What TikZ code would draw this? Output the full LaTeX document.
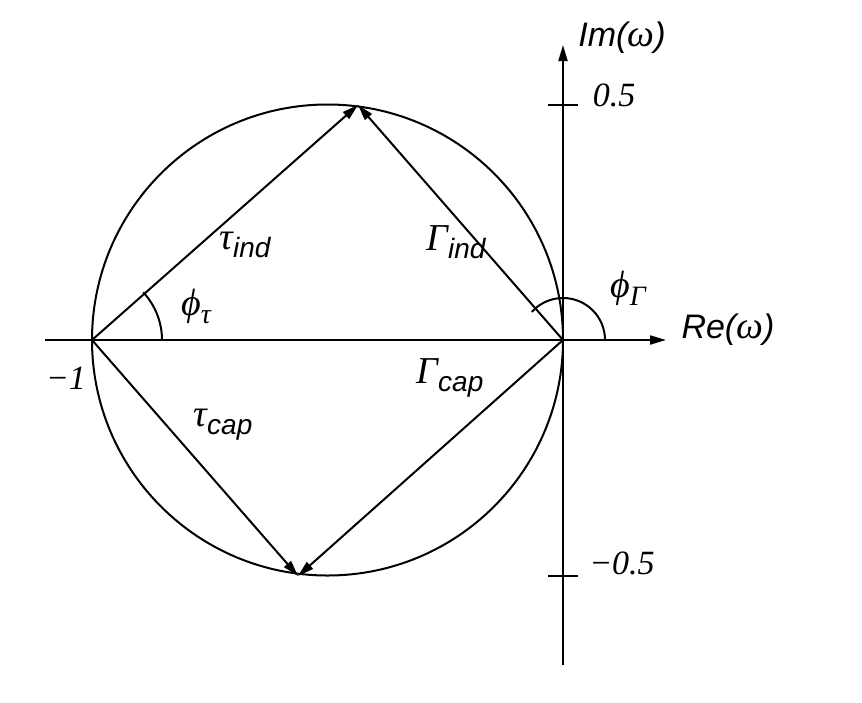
\documentclass[tikz,border=0pt]{standalone}
\usepackage{fontspec}
\setmainfont{Liberation Sans}
\newfontfamily\numfont{Liberation Serif}
\usetikzlibrary{arrows.meta}
\newcommand{\gk}[1]{{\numfont\fontsize{38}{42}\selectfont #1}}
\newcommand{\gkit}[1]{{\numfont\itshape\fontsize{38}{42}\selectfont #1}}
\newcommand{\sbs}[1]{\raisebox{-8pt}{\fontsize{28}{30}\selectfont\itshape #1}}
\begin{document}
\begin{tikzpicture}[x=1pt,y=-1pt,line width=2pt,
  ar/.style={-{Triangle[length=16pt,width=9pt]}},
  lab/.style={font=\fontsize{34}{38}\selectfont\itshape},
  num/.style={font=\fontsize{34}{38}\selectfont\numfont\itshape}]
\useasboundingbox (0,0) rectangle (862,702);
\coordinate (O) at (563,340);
\coordinate (M) at (92,340);
\coordinate (T) at (358,105);
\coordinate (B) at (298,576);
\coordinate (C) at (327.5,340);
\draw (C) circle (235.5);
\coordinate (xl) at (45,340); \coordinate (xr) at (666,340);
\coordinate (yb) at (563,665); \coordinate (yt) at (563,45);
\draw[ar] (xl) -- (xr);
\draw[ar] (yb) -- (yt);
\draw (548,105) -- (578,105);
\draw (548,576) -- (578,576);
\draw[ar] (M) -- (T);
\draw[ar] (O) -- (T);
\draw[ar] (M) -- (B);
\draw[ar] (O) -- (B);
\draw (M) ++(70,0) arc[start angle=0,end angle=-43,radius=70];
\draw (O) ++(42,0) arc[start angle=0,end angle=-138,radius=42];
\node[lab] (re) at (728,330) {Re(\gk{ω})};
\node[lab] (im) at (622,38) {Im(\gk{ω})};
\node[num] (p5) at (614,95) {0.5};
\node[num] (m5) at (622,563) {−0.5};
\node[num] (m1) at (66,378) {−1};
\node[lab] (ti) at (245,245) {\gk{τ}\sbs{ind}};
\node[lab] (gi) at (456,242) {\gkit{Γ}\sbs{ind}};
\node[lab] (tc) at (223,425) {\gk{τ}\sbs{cap}};
\node[lab] (gc) at (450,378) {\gkit{Γ}\sbs{cap}};
\node[lab] (pt) at (196,306) {\gk{ϕ}\raisebox{-8pt}{\gk{\fontsize{28}{30}\selectfont τ}}};
\node[lab] (pg) at (628,288) {\gk{ϕ}\raisebox{-8pt}{\gkit{\fontsize{28}{30}\selectfont Γ}}};
\end{tikzpicture}
\end{document}
